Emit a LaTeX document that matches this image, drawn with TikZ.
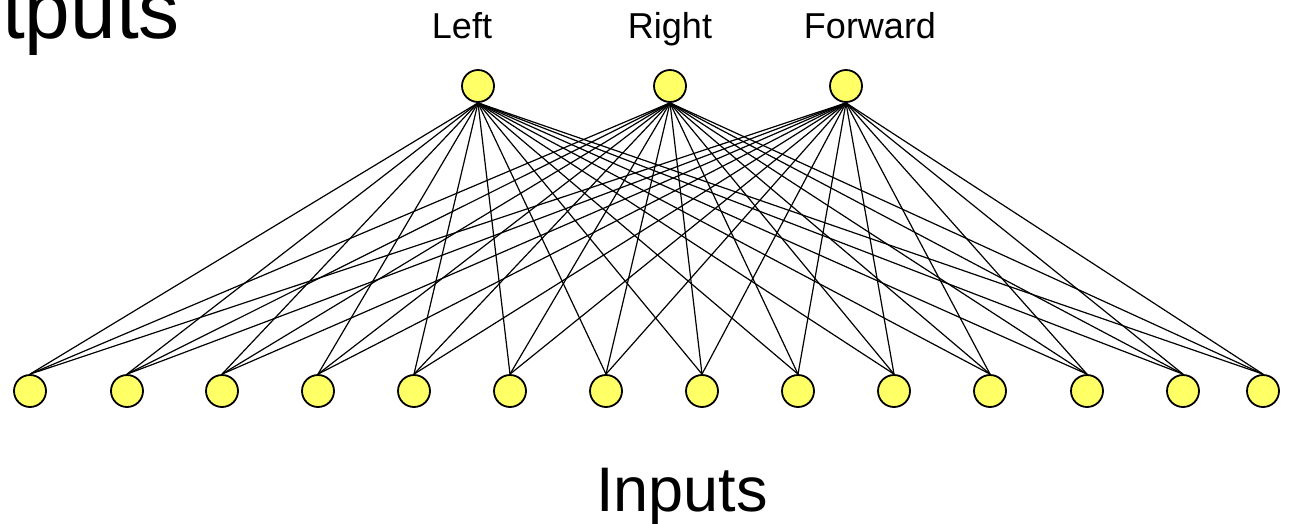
\documentclass[tikz,border=0pt]{standalone}
\usepackage{fontspec}
\setmainfont{Liberation Sans}
\definecolor{unitc}{HTML}{FFFF66}
\tikzstyle{unit} = [
  circle,
  draw=black,
  line width=1.8pt,
  fill=unitc,
  minimum size=32pt,
  inner sep=0pt,
]
\tikzstyle{wire} = [line width=1.2pt]
\tikzstyle{lbl} = [anchor=base, inner sep=0pt, font=\fontsize{36}{40}\selectfont]
\tikzstyle{title} = [inner sep=0pt]

\begin{document}
\begin{tikzpicture}[x=1pt, y=-1pt]
    \useasboundingbox (0,0) rectangle (1290,523);
    \def\topy{86}
    \def\boty{391}

    % Output units
    \node[unit] (L) at (478,\topy) {};
    \node[unit] (R) at (670,\topy) {};
    \node[unit] (F) at (846,\topy) {};

    % Input units
    \foreach \x [count=\i] in {30,127,222,318,414,510,606,702,798,894,990,1087,1183,1263}
        \node[unit] (in\i) at (\x,\boty) {};

    % Weights
    \foreach \o in {L,R,F}
        \foreach \i in {1,...,14}
            \draw[wire] (\o.south) -- (in\i.north);

    % Labels
    \node[lbl] (lleft) at (462,38) {Left};
    \node[lbl] (lright) at (670,38) {Right};
    \node[lbl] (lfwd) at (870,38) {Forward};
    \node[title, anchor=base east, font=\fontsize{82}{86}\selectfont] (outs) at (180,38) {Outputs};
    \node[title, anchor=base, font=\fontsize{63}{68}\selectfont] (ins) at (682,511) {Inputs};
\end{tikzpicture}
\end{document}
